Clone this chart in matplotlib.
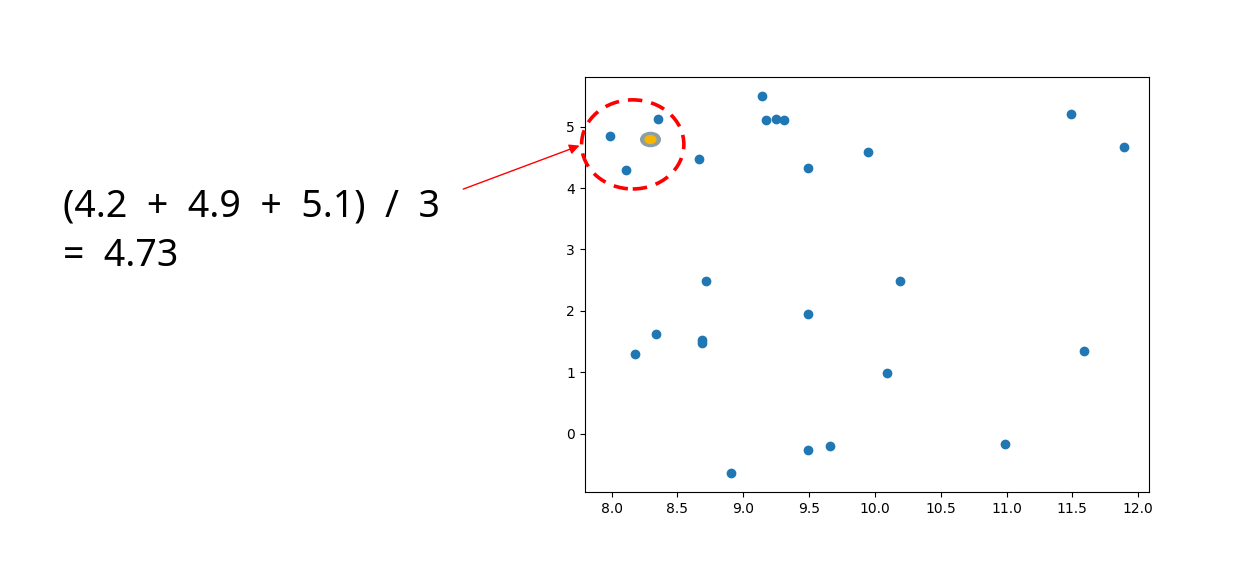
import matplotlib.pyplot as plt
import numpy as np
from matplotlib.patches import Ellipse
from matplotlib.path import Path
from matplotlib.transforms import Affine2D

x = [7.99, 8.11, 8.35, 8.66, 9.14, 9.17, 9.25, 9.31, 9.49, 9.95, 11.49, 11.89,
     8.72, 10.19, 9.49, 8.34, 8.69, 8.69, 8.18, 10.09, 11.59, 10.99, 9.66, 9.49, 8.91]
y = [4.85, 4.30, 5.13, 4.48, 5.50, 5.10, 5.13, 5.10, 4.33, 4.59, 5.21, 4.66,
     2.49, 2.48, 1.95, 1.63, 1.53, 1.48, 1.30, 0.99, 1.34, -0.16, -0.20, -0.26, -0.64]

mean_x = 8.29
mean_y = 4.80

label_lines = ["(4.2  +  4.9  +  5.1)  /  3", "=  4.73"]

fig = plt.figure(figsize=(12.52, 5.73), dpi=100)
ax = fig.add_axes([0.467, 0.1414, 0.451, 0.7242])
ax.scatter(x, y)
ax.set_xticks(np.arange(8.0, 12.01, 0.5))

# flattened ellipse marker for the highlighted mean point
oval = Path.unit_circle().transformed(Affine2D().scale(1.0, 0.72))
ax.scatter([mean_x], [mean_y], marker=oval, s=200, color='#8c9fa6', zorder=3)
ax.scatter([mean_x], [mean_y], marker=oval, s=60, color='#f7b500', zorder=4)

ring = Ellipse((8.16, 4.71), 0.777, 1.45, fill=False, edgecolor='red',
               linewidth=2.6, linestyle=(0, (4, 2.5)), clip_on=False, zorder=5,
               transform=ax.transData)
ax.add_artist(ring)

ax.annotate('', xy=(7.756, 4.69), xycoords='data',
            xytext=(0.370, 0.670), textcoords='figure fraction',
            arrowprops=dict(arrowstyle='-|>', color='red', lw=1,
                            mutation_scale=15, shrinkA=0, shrinkB=0),
            annotation_clip=False)

for i, line in enumerate(label_lines):
    fig.text(0.050, 0.6213 - i * 0.0855, line, fontsize=27, va='baseline',
             ha='left', family=['Noto Sans', 'DejaVu Sans'])

plt.savefig('out.png', dpi=100)
